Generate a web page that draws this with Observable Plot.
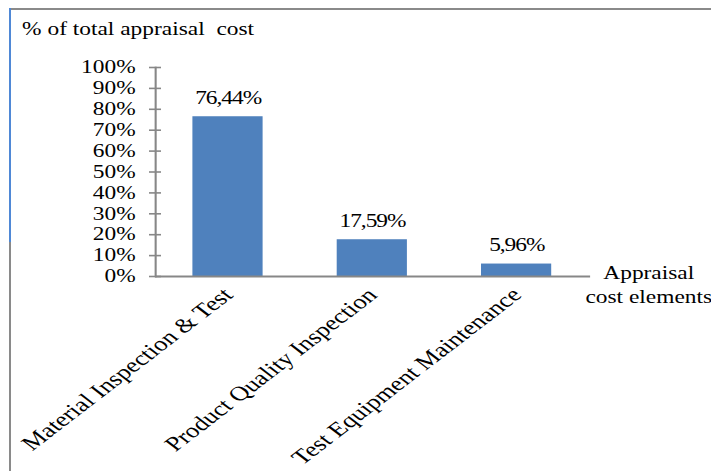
<!DOCTYPE html>
<html><head><meta charset="utf-8">
<script src="https://cdn.jsdelivr.net/npm/d3@7"></script>
<script src="https://cdn.jsdelivr.net/npm/@observablehq/plot@0.6"></script>
<style>
body{margin:0;background:#fff;overflow:hidden}
#wrap{position:relative;width:711px;height:471px;overflow:hidden;background:#fff}
#stretch{position:absolute;left:0;top:0;width:547px;height:471px;transform:scaleX(1.3);transform-origin:0 0}
#title{position:absolute;left:17px;top:20px;font-family:"Liberation Serif","Times New Roman",Tinos,"DejaVu Serif",serif;font-size:18px;line-height:18px;white-space:pre;color:#000}
#chart{position:absolute;left:0;top:0}
#btop{position:absolute;left:10px;top:8px;width:701px;height:0;border-top:2px solid #8a8a8a}
#bleft1{position:absolute;left:9px;top:8px;width:2px;height:234px;background:#4f88d6}
#bleft2{position:absolute;left:9px;top:242px;width:2px;height:229px;background:#8a8a8a}
</style>
</head><body>
<div id="wrap">
  <div id="stretch">
    <div id="title">% of total appraisal  cost</div>
    <div id="chart"></div>
  </div>
  <div id="btop"></div><div id="bleft1"></div><div id="bleft2"></div>
</div>
<script>
const categories = ["Material Inspection & Test", "Product Quality Inspection", "Test Equipment Maintenance"];
const values = [76.44, 17.59, 5.96];
const yTicks = [0, 10, 20, 30, 40, 50, 60, 70, 80, 90, 100];
const xTitle = "Appraisal\ncost elements";

const data = categories.map((c, i) => ({cat: c, value: values[i], label: values[i].toFixed(2).replace(".", ",") + "%"}));
const S = 1.3;
const font = '"Liberation Serif", "Times New Roman", Tinos, "DejaVu Serif", serif';
const axisColor = "#878787";

const chart = Plot.plot({
  width: 547, height: 471,
  marginTop: 67, marginBottom: 195, marginLeft: 155 / S, marginRight: (711 - 590) / S,
  style: {fontFamily: font, fontSize: "18px", color: "#000", background: "transparent", overflow: "visible"},
  x: {domain: categories, paddingInner: 0.51, paddingOuter: 0.255, label: null},
  y: {domain: [0, 100], label: null},
  marks: [
    Plot.barY(data, {x: "cat", y: "value", fill: "#4F81BD"}),
    Plot.text(data, {x: "cat", y: "value", text: "label", dy: -13, lineAnchor: "bottom", fontSize: 18, fill: "#000"}),
    Plot.ruleY([0], {stroke: axisColor, strokeWidth: 2}),
    Plot.frame({anchor: "left", stroke: axisColor, strokeWidth: 1.6}),
    Plot.axisY(yTicks, {tickSize: 12 / S, dx: 6 / S, tickFormat: () => "", stroke: axisColor, strokeWidth: 1.6, label: null}),
    Plot.axisY(yTicks, {tickSize: 0, tickPadding: 20 / S, tickFormat: d => d + "%", fontSize: 18, fill: "#000", label: null}),
    Plot.axisX({tickSize: 0, tickPadding: 15, tickRotate: -45, fontSize: 20.5, fill: "#000", label: null}),
    Plot.text([xTitle], {frameAnchor: "bottom-right", text: d => d, dx: (648 - 590) / S, dy: -14, textAnchor: "middle", lineAnchor: "top", lineHeight: 1.3, fontSize: 18, fill: "#000"})
  ]
});
chart.querySelectorAll("text").forEach(t => t.style.fontFamily = font);
document.getElementById("chart").appendChild(chart);
const tg = chart.querySelectorAll('g[aria-label="text"]');
if (tg[0]) tg[0].setAttribute("letter-spacing", "-0.8px");
</script>
</body></html>
